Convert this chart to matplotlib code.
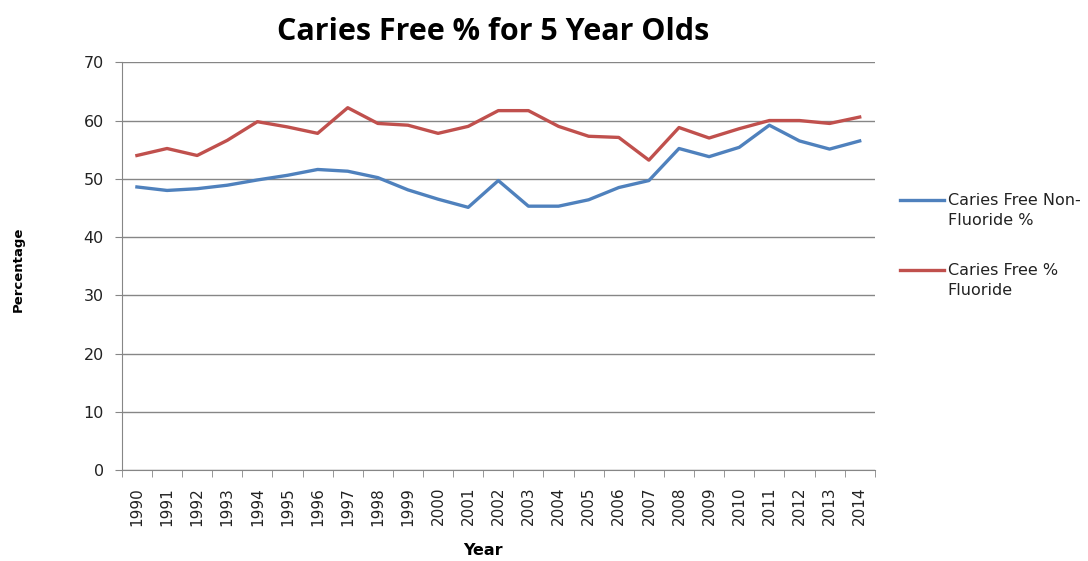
import matplotlib
matplotlib.use("Agg")
import matplotlib.pyplot as plt
from matplotlib.lines import Line2D
import numpy as np

years = [str(y) for y in range(1990, 2015)]
non_fluoride = [48.6, 48.0, 48.3, 48.9, 49.8, 50.6, 51.6, 51.3, 50.2, 48.1,
                46.5, 45.1, 49.7, 45.3, 45.3, 46.4, 48.5, 49.7, 55.2, 53.8,
                55.4, 59.2, 56.5, 55.1, 56.5]
fluoride = [54.0, 55.2, 54.0, 56.6, 59.8, 58.9, 57.8, 62.2, 59.5, 59.2,
            57.8, 59.0, 61.7, 61.7, 59.0, 57.3, 57.1, 53.2, 58.8, 57.0,
            58.6, 60.0, 60.0, 59.5, 60.6]
y_ticks = [0, 10, 20, 30, 40, 50, 60, 70]
series_names = ["Caries Free Non-\nFluoride %", "Caries Free %\nFluoride"]
colors = ["#4F81BD", "#C0504D"]

plt.rcParams["font.family"] = ["DejaVu Sans"]

fig = plt.figure(figsize=(10.88, 5.61), dpi=100)
ax = fig.add_axes([0.112, 0.162, 0.692, 0.727])

x = np.arange(len(years))
ax.plot(x, non_fluoride, color=colors[0], lw=2.4, solid_joinstyle="round")
ax.plot(x, fluoride, color=colors[1], lw=2.4, solid_joinstyle="round")

ax.set_xlim(-0.5, len(years) - 0.5)
ax.set_ylim(0, 70)
ax.set_yticks(y_ticks)
ax.set_xticks(x)
ax.set_xticklabels(years, rotation=90, fontsize=11)
ax.set_xticks(np.arange(len(years) + 1) - 0.5, minor=True)
ax.tick_params(axis="x", which="major", length=0, pad=12, colors="#222222")
ax.tick_params(axis="x", which="minor", length=5, color="#868686")
ax.tick_params(axis="y", length=5, color="#868686", labelsize=11.5, pad=8,
               labelcolor="#222222")
ax.yaxis.grid(True, color="#868686", lw=1)
ax.set_axisbelow(True)
for s in ["top", "right"]:
    ax.spines[s].set_visible(False)
for s in ["left", "bottom"]:
    ax.spines[s].set_color("#868686")

fig.text(0.453, 0.943, "Caries Free % for 5 Year Olds", ha="center", va="center",
         fontsize=22, fontweight="bold", family="Open Sans")
fig.text(0.017, 0.52, "Percentage", rotation=90, ha="center", va="center",
         fontsize=9.5, fontweight="bold")
fig.text(0.444, 0.018, "Year", ha="center", va="center",
         fontsize=11.5, fontweight="bold")

# legend drawn by hand so the key line sits on the first text line (Excel style)
leg_y = [0.6435, 0.5187]
for name, c, yy in zip(series_names, colors, leg_y):
    fig.add_artist(Line2D([0.827, 0.868], [yy, yy], color=c, lw=2.4,
                          transform=fig.transFigure))
    fig.text(0.871, yy + 0.013, name, ha="left", va="top", fontsize=11.5,
             linespacing=1.45, color="#222222")

fig.savefig("out.png", dpi=100)
